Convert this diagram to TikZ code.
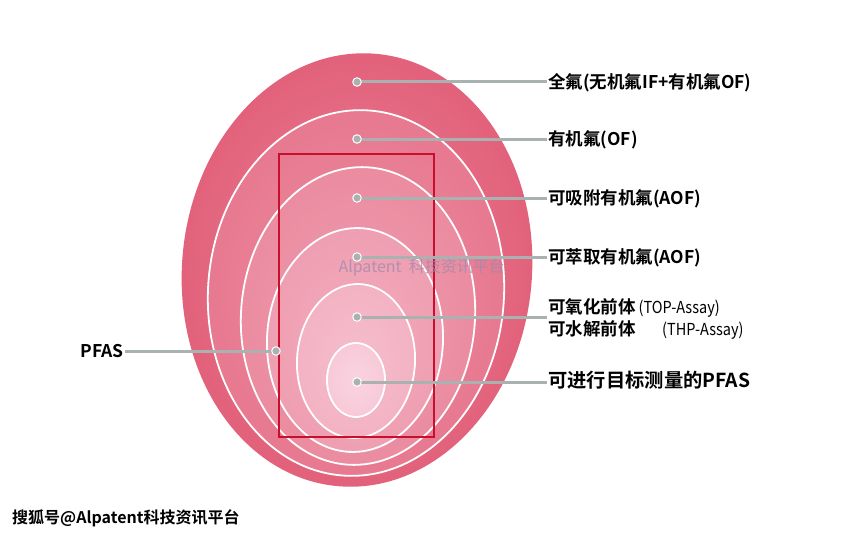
\documentclass[tikz,border=0pt]{standalone}
\usepackage{fontspec}
\setmainfont{Noto Sans CJK SC}
\newfontfamily\cjkb{Noto Sans CJK SC Bold}
\newfontfamily\condf{Noto Sans CJK SC}[FakeStretch=0.88]
\definecolor{ringA}{HTML}{E2607A}
\definecolor{ringB}{HTML}{E7788F}
\definecolor{ringC}{HTML}{EB8BA0}
\definecolor{ringD}{HTML}{EF9EB1}
\definecolor{ringE}{HTML}{F3B2C3}
\definecolor{ringF}{HTML}{F8C9D8}
\definecolor{boxred}{HTML}{C8102E}
\definecolor{leadgray}{HTML}{AAB1B1}
\definecolor{wmark}{HTML}{9C8AAE}
\tikzset{
  ringline/.style={draw=white, line width=1.8pt},
  lead/.style={draw=leadgray, line width=3pt},
  dotmark/.style={circle, fill=leadgray, draw=white, line width=1pt, minimum size=8.5pt, inner sep=0pt},
  lab/.style={font=\cjkb\fontsize{17.5}{20}\selectfont, inner sep=1pt, text height=15.4pt, text depth=2.1pt},
  labsub/.style={font=\condf\fontsize{16.5}{19}\selectfont, inner sep=1pt, text height=15.4pt, text depth=2.1pt},
}
\begin{document}
\begin{tikzpicture}[x=1pt,y=-1pt]
\useasboundingbox[fill=white] (0,0) rectangle (841,535);
% nested ellipses
\shade[inner color=ringA!80!white, outer color=ringA, rotate around={-5:(357,270)}] (357,270) ellipse [x radius=175, y radius=217];
\shadedraw[inner color=ringB!85!white, outer color=ringB, ringline, rotate around={-4:(356,293)}] (356,293) ellipse [x radius=148, y radius=183];
\shadedraw[inner color=ringC!85!white, outer color=ringC, ringline, rotate around={-4:(358,316)}] (358,316) ellipse [x radius=117, y radius=149];
\shadedraw[inner color=ringD!85!white, outer color=ringD, ringline, rotate around={-3:(355,340)}] (355,340) ellipse [x radius=88, y radius=112];
\shadedraw[inner color=ringE!85!white, outer color=ringE, ringline, rotate around={-3:(356,361)}] (356,361) ellipse [x radius=59, y radius=77];
\shadedraw[inner color=ringF!80!white, outer color=ringF, ringline] (356,380) ellipse [x radius=29, y radius=37];
% red frame
\draw[boxred, line width=2.6pt] (279,154) rectangle (434,437);
% watermark in the middle
\node[font=\fontsize{16}{18}\selectfont, text=wmark, opacity=0.75, anchor=west] (wm) at (335,268) {Alpatent\ \ 科技资讯平台};
% label nodes
\node[lab, anchor=west] (l1) at (547,82) {全氟(无机氟IF+有机氟OF)};
\node[lab, anchor=west] (l2) at (547,139) {有机氟(OF)};
\node[lab, anchor=west] (l3) at (547,198) {可吸附有机氟(AOF)};
\node[lab, anchor=west] (l4) at (547,257) {可萃取有机氟(AOF)};
\node[lab, anchor=west] (l5a) at (547,307) {可氧化前体\,{\condf\fontsize{16.5}{19}\selectfont (TOP-Assay)}};
\node[lab, anchor=west] (l5b) at (547,329) {可水解前体};
\node[labsub, anchor=west] (l5c) at (661,329) {(THP-Assay)};
\node[lab, anchor=west, font=\cjkb\fontsize{19.3}{22}\selectfont] (l6) at (547,381) {可进行目标测量的PFAS};
\node[lab, anchor=east] (lp) at (125,351) {PFAS};
% dot positions
\coordinate (p1) at (357,82);
\coordinate (p2) at (357,139);
\coordinate (p3) at (357,198);
\coordinate (p4) at (357,257);
\coordinate (p5) at (357,317);
\coordinate (p6) at (357,382);
\coordinate (p7) at (276,351);
% leader lines
\draw[lead] (p1) -- (p1 -| l1.west);
\draw[lead] (p2) -- (p2 -| l2.west);
\draw[lead] (p3) -- (p3 -| l3.west);
\draw[lead] (p4) -- (p4 -| l4.west);
\draw[lead] (p5) -- (p5 -| l5a.west);
\draw[lead] (p6) -- (p6 -| l6.west);
\draw[lead] (lp.east) -- (p7);
% dots
\foreach \p in {p1,p2,p3,p4,p5,p6,p7} \node[dotmark] (d\p) at (\p) {};
% bottom-left watermark
\node[font=\cjkb\fontsize{16}{18}\selectfont, anchor=west, inner sep=0pt] (src) at (12,518) {搜狐号@Alpatent科技资讯平台};
\end{tikzpicture}
\end{document}
